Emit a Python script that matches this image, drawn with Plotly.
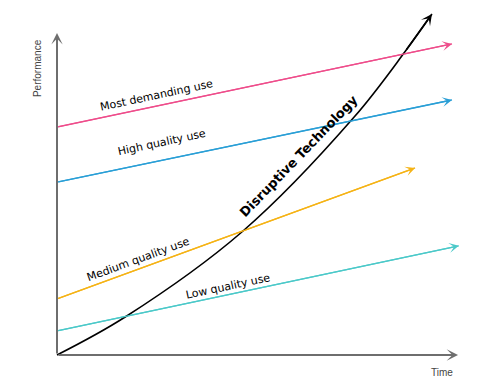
import plotly.graph_objects as go

# ---- data (time / performance units, axes span 0..10) ----
needs_names = ["Most demanding use", "High quality use", "Medium quality use", "Low quality use"]
needs_t = [[0, 9.85], [0, 9.85], [0, 8.93], [0, 10.02]]
needs_p = [[7.08, 9.66], [5.37, 7.92], [1.74, 5.81], [0.75, 3.39]]
needs_colors = ["#ee4d8b", "#2a9fd6", "#f5b316", "#4cc9c9"]

disruptive_t = [0, 1.70, 4.61, 7.41, 8.69, 9.35]
disruptive_p = [0, 1.18, 3.82, 7.39, 9.44, 10.59]

axis_max = 10

# label placement (text only)
label_pos = [(2.47, 8.07, -12), (2.62, 6.61, -12), (2.02, 2.98, -20), (4.26, 2.14, -12)]

fig = go.Figure()

for t, p, c in zip(needs_t, needs_p, needs_colors):
    fig.add_trace(go.Scatter(x=t, y=p, mode="lines", line=dict(color=c, width=1.3),
                             hoverinfo="skip", showlegend=False))
    fig.add_annotation(x=t[-1], y=p[-1], ax=t[0], ay=p[0], xref="x", yref="y",
                       axref="x", ayref="y", text="", showarrow=True,
                       arrowhead=3, arrowsize=1.25, arrowwidth=1.3, arrowcolor=c)

fig.add_trace(go.Scatter(x=disruptive_t, y=disruptive_p, mode="lines",
                         line=dict(color="black", width=1.6, shape="spline", smoothing=1.0),
                         hoverinfo="skip", showlegend=False))
fig.add_annotation(x=disruptive_t[-1], y=disruptive_p[-1], ax=disruptive_t[-2], ay=disruptive_p[-2],
                   xref="x", yref="y", axref="x", ayref="y", text="", showarrow=True,
                   arrowhead=3, arrowsize=1.15, arrowwidth=1.6, arrowcolor="black")

# axes with arrows
fig.add_annotation(x=0, y=axis_max, ax=0, ay=0, xref="x", yref="y", axref="x", ayref="y",
                   text="", showarrow=True, arrowhead=3, arrowsize=0.95, arrowwidth=2,
                   arrowcolor="#6e6e6e")
fig.add_annotation(x=axis_max, y=0, ax=0, ay=0, xref="x", yref="y", axref="x", ayref="y",
                   text="", showarrow=True, arrowhead=3, arrowsize=0.95, arrowwidth=2,
                   arrowcolor="#6e6e6e")

lab_font = dict(family="DejaVu Sans", size=11, color="#000000")
for name, (lx, ly, ang) in zip(needs_names, label_pos):
    fig.add_annotation(x=lx, y=ly, xref="x", yref="y", text=name, showarrow=False,
                       textangle=ang, font=lab_font)

fig.add_annotation(x=6.01, y=6.18, xref="x", yref="y", text="<b>Disruptive Technology</b>",
                   showarrow=False, textangle=-46,
                   font=dict(family="DejaVu Sans", size=13, color="#000000"))

fig.add_annotation(x=-0.50, y=8.91, xref="x", yref="y", text="Performance", showarrow=False,
                   textangle=-90, font=dict(family="Liberation Sans", size=10, color="#444444"))
fig.add_annotation(x=9.60, y=-0.53, xref="x", yref="y", text="Time", showarrow=False,
                   font=dict(family="Liberation Sans", size=10, color="#444444"))

fig.update_layout(
    width=499, height=391, margin=dict(l=0, r=0, t=0, b=0),
    paper_bgcolor="white", plot_bgcolor="white",
    xaxis=dict(range=[-1.4214, 11.022], visible=False, fixedrange=True),
    yaxis=dict(range=[-1.118, 11.025], visible=False, fixedrange=True),
    showlegend=False,
)

fig.write_html("out.html")
